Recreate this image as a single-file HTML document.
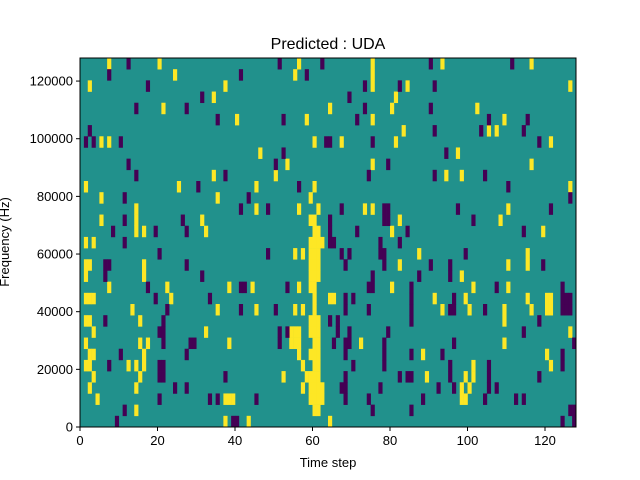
<!DOCTYPE html>
<html><head><meta charset="utf-8"><style>
body{margin:0;background:#fff;}
svg{display:block;font-family:"Liberation Sans","DejaVu Sans",sans-serif;}
</style></head><body>
<svg id="chart" width="640" height="480" viewBox="0 0 640 480">
<rect width="640" height="480" fill="#fff"/>
<text x="328" y="49" font-size="16" text-anchor="middle">Predicted : UDA</text>
<g id="cells"></g>
<rect x="80" y="58" width="496" height="369" fill="none" stroke="#000" stroke-width="1"/>
<g id="xticks"></g>
<g id="yticks"></g>
<text x="328" y="467" font-size="13" text-anchor="middle">Time step</text>
<text x="0" y="0" font-size="13" text-anchor="middle" transform="translate(9,242) rotate(-90)">Frequency (Hz)</text>
</svg>
<script>
const nSteps = 128;
const nRows = 33;
const yMax = 128000;
const xTickLabels = [0, 20, 40, 60, 80, 100, 120];
const yTickLabels = [0, 20000, 40000, 60000, 80000, 100000, 120000];
// yellow (high) cells per row, row 0 = bottom
const yellowByRow = [
 [37,43,64],
 [14,60,61],
 [4,37,38,39,59,60,61,62,98,99],
 [2,14,57,59,60,61,62,98,100],
 [3,15,52,58,59,60,61,89,99,101],
 [1,2,12,14,16,57,60,61,101,121],
 [2,3,16,56,59,60,61,88,120],
 [1,15,17,38,54,55,56,60,61,72,109],
 [3,32,54,55,56,59,60,61,126],
 [1,2,15,59,60,61,109],
 [13,35,45,55,57,60,93,100,109,116,120,121],
 [1,2,3,23,60,64,65,91,99,115,120,121],
 [7,22,38,44,56,59,60,80,101,110],
 [1,16,59,60,61,98],
 [1,2,16,59,60,61,82,110,115],
 [55,57,59,60,61,87,115],
 [1,3,59,60,61,62],
 [14,16,32,60,61,80,119],
 [5,14,31,59,60,82,108],
 [14,45,56,61,73,75,110],
 [5,35,59],
 [1,25,45,60,126],
 [34,50,94,98],
 [53,75,116],
 [46,97],
 [5,7,60,67,81,121],
 [83,105,107],
 [40,58,75,109],
 [21,64,80,102],
 [34,81],
 [2,37,75,84,126],
 [24,55,75],
 [7,20,56,75,93,116]
];
// purple (low) cells per row, row 0 = bottom
const purpleByRow = [
 [9,39,40,124,127],
 [11,75,85,126,127],
 [20,33,35,45,68,74,88,104,112,114],
 [24,27,67,68,77,92,96,105,107],
 [20,21,37,68,82,84,85,95,105,118],
 [7,20,21,70,78,95,105,124],
 [10,27,68,78,85,93,124],
 [21,28,29,51,65,68,69,78,96,127],
 [20,21,51,53,66,69,79,114],
 [6,21,64,66,85,118],
 [22,41,50,68,74,85,95,96,104,124,125,126],
 [19,33,68,70,85,96,124,125,126],
 [17,41,42,53,74,75,85,107,124],
 [6,31,75,87,95],
 [6,7,27,68,78,90,95,119],
 [20,48,67,69,77,78,99],
 [11,64,65,77,82],
 [8,19,27,64,71,84,114],
 [11,26,64,78,79,101],
 [41,48,67,78,79,97,121],
 [11,43,126],
 [30,56,110],
 [14,37,74,91,104],
 [12,50,79],
 [52,94],
 [1,3,10,63,64,75,118],
 [2,91,103,114],
 [35,52,71,105,115],
 [14,27,73,90],
 [31,69],
 [17,73,82,91],
 [7,41,58],
 [12,51,62,90,111]
];
const X0 = 80, X1 = 576, Y0 = 58, Y1 = 427;
const NS = 'http://www.w3.org/2000/svg';
function xScale(t){ return X0 + t * (X1 - X0) / nSteps; }
function rowTop(r){ return Y1 - (r + 1) * (Y1 - Y0) / nRows; }
function yScale(v){ return Y1 - v * (Y1 - Y0) / yMax; }
const cells = document.getElementById('cells');
const bg = document.createElementNS(NS, 'rect');
bg.setAttribute('x', X0); bg.setAttribute('y', Y0);
bg.setAttribute('width', X1 - X0); bg.setAttribute('height', Y1 - Y0);
bg.setAttribute('fill', '#21918c');


cells.appendChild(bg);
function drawCells(arr, color, name){
  arr.forEach(function(list, r){
    list.forEach(function(t){
      const c = document.createElementNS(NS, 'rect');
      const x = xScale(t), y = rowTop(r);
      c.setAttribute('x', x.toFixed(2));
      c.setAttribute('y', y.toFixed(2));
      c.setAttribute('width', (xScale(t + 1) - x + 0.3).toFixed(2));
      c.setAttribute('height', (rowTop(r - 1) - y + 0.3).toFixed(2));
      c.setAttribute('fill', color);
      
      
      cells.appendChild(c);
    });
  });
}
drawCells(yellowByRow, '#fde725', 'high-cell');
drawCells(purpleByRow, '#440154', 'low-cell');
const xt = document.getElementById('xticks');
xTickLabels.forEach(function(v){
  const x = xScale(v);
  const l = document.createElementNS(NS, 'line');
  l.setAttribute('x1', x); l.setAttribute('x2', x);
  l.setAttribute('y1', Y1); l.setAttribute('y2', Y1 + 4);
  l.setAttribute('stroke', '#000');
  
  
  xt.appendChild(l);
  const tx = document.createElementNS(NS, 'text');
  tx.setAttribute('x', x); tx.setAttribute('y', Y1 + 18);
  tx.setAttribute('font-size', '13'); tx.setAttribute('text-anchor', 'middle');
  tx.textContent = v;
  
  
  xt.appendChild(tx);
});
const yt = document.getElementById('yticks');
yTickLabels.forEach(function(v){
  const y = yScale(v);
  const l = document.createElementNS(NS, 'line');
  l.setAttribute('x1', X0 - 4); l.setAttribute('x2', X0);
  l.setAttribute('y1', y); l.setAttribute('y2', y);
  l.setAttribute('stroke', '#000');
  
  
  yt.appendChild(l);
  const tx = document.createElementNS(NS, 'text');
  tx.setAttribute('x', X0 - 7); tx.setAttribute('y', y + 4.5);
  tx.setAttribute('font-size', '13'); tx.setAttribute('text-anchor', 'end');
  tx.textContent = v;
  
  
  yt.appendChild(tx);
});
</script>
</body></html>
